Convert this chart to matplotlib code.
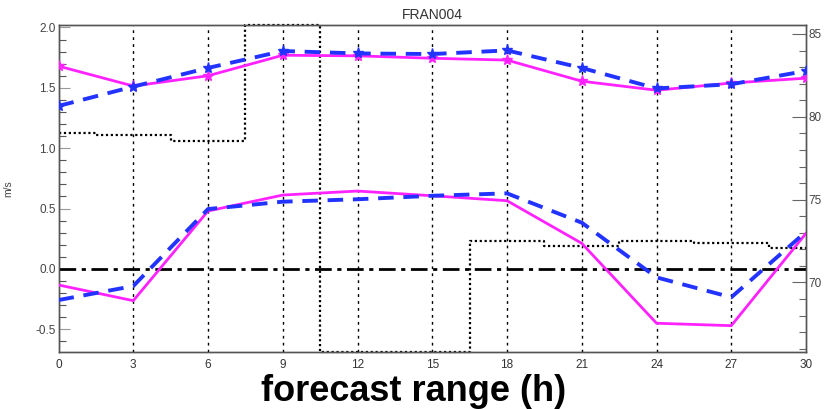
import matplotlib
matplotlib.use("Agg")
import matplotlib.pyplot as plt
from matplotlib.ticker import MultipleLocator

plt.rcParams["axes.unicode_minus"] = False

# forecast hours
hours = [0, 3, 6, 9, 12, 15, 18, 21, 24, 27, 30]

# upper curves (rmse, m/s)
rmse_pink = [1.68, 1.515, 1.60, 1.77, 1.765, 1.745, 1.73, 1.555, 1.48, 1.54, 1.58]
rmse_blue = [1.35, 1.51, 1.665, 1.805, 1.785, 1.78, 1.81, 1.665, 1.495, 1.53, 1.64]

# lower curves (bias, m/s)
bias_pink = [-0.133, -0.263, 0.48, 0.612, 0.645, 0.606, 0.565, 0.212, -0.45, -0.47, 0.295]
bias_blue = [-0.258, -0.142, 0.496, 0.557, 0.577, 0.606, 0.626, 0.383, -0.07, -0.235, 0.308]

# dotted step series on the right axis (off-scale bins sit on the frame)
right_vals = [79.04, 78.9, 78.56, 85.56, 65.82, 65.82, 72.53, 72.22, 72.53, 72.37, 72.07]

pink = "#ff22ff"
blue = "#2233ff"
tick_font = ["Liberation Sans Narrow", "Liberation Sans", "DejaVu Sans"]

fig = plt.figure(figsize=(8.29, 4.09), dpi=100)
ax = fig.add_axes([0.0706, 0.140, 0.9017, 0.7996])
ax2 = ax.twinx()

# grid lines at each forecast hour
for h in hours[1:-1]:
    ax.axvline(h, color="black", linestyle=(0, (2, 3)), linewidth=1.0, zorder=1)

ax.axhline(0, color="black", linestyle=(0, (6, 2, 1.5, 2)), linewidth=2.0, zorder=2)

ax2.step(hours, right_vals, where="mid", color="black",
         linestyle=(0, (1, 1.2)), linewidth=1.6, clip_on=False, zorder=2)

ax.plot(hours, rmse_pink, color=pink, linewidth=2.0, marker="*",
        markersize=8, zorder=4)
ax.plot(hours, rmse_blue, color=blue, linewidth=2.8, linestyle=(0, (4, 2.5)),
        marker="*", markersize=8, zorder=5)
ax.plot(hours, bias_pink, color=pink, linewidth=2.0, zorder=4)
ax.plot(hours, bias_blue, color=blue, linewidth=2.8, linestyle=(0, (4, 2.5)), zorder=5)

ax.set_zorder(ax2.get_zorder() + 1)
ax.patch.set_visible(False)

ax.set_xlim(0, 30)
ax.set_ylim(-0.686, 2.023)
ax2.set_ylim(65.82, 85.56)

ax.set_xticks(hours)
ax.set_yticks([-0.5, 0.0, 0.5, 1.0, 1.5, 2.0])
ax.yaxis.set_minor_locator(MultipleLocator(0.1))
ax2.set_yticks([70, 75, 80, 85])
ax2.yaxis.set_minor_locator(MultipleLocator(1))

ax.tick_params(axis="x", length=0, pad=5, labelsize=8.5, labelcolor="#333333")
ax.tick_params(axis="y", which="major", direction="in", length=8, width=0.8,
               color="#999999", pad=2, labelsize=8.5, labelcolor="#444444")
ax.tick_params(axis="y", which="minor", direction="in", length=5, width=0.8,
               color="#555555")
ax2.tick_params(axis="y", which="major", direction="in", length=10, width=0.8,
                color="#666666", pad=2, labelsize=8.5, labelcolor="#444444")
ax2.tick_params(axis="y", which="minor", direction="in", length=5, width=0.8,
                color="#666666")
for lab in ax.get_xticklabels() + ax.get_yticklabels() + ax2.get_yticklabels():
    lab.set_family(tick_font)

for a in (ax, ax2):
    for s in a.spines.values():
        s.set_color("#555555")
        s.set_linewidth(1.0)

ax.set_title("FRAN004", fontsize=10, family=tick_font, color="#333333", pad=4)
ax.set_ylabel("m/s", fontsize=7.5, family=tick_font, color="#444444", labelpad=16)

fig.text(0.4985, 0.02, "forecast range (h)", ha="center", va="baseline",
         fontsize=26, fontweight="bold", family=["Liberation Sans", "DejaVu Sans"])

fig.savefig("out.png", dpi=100)
